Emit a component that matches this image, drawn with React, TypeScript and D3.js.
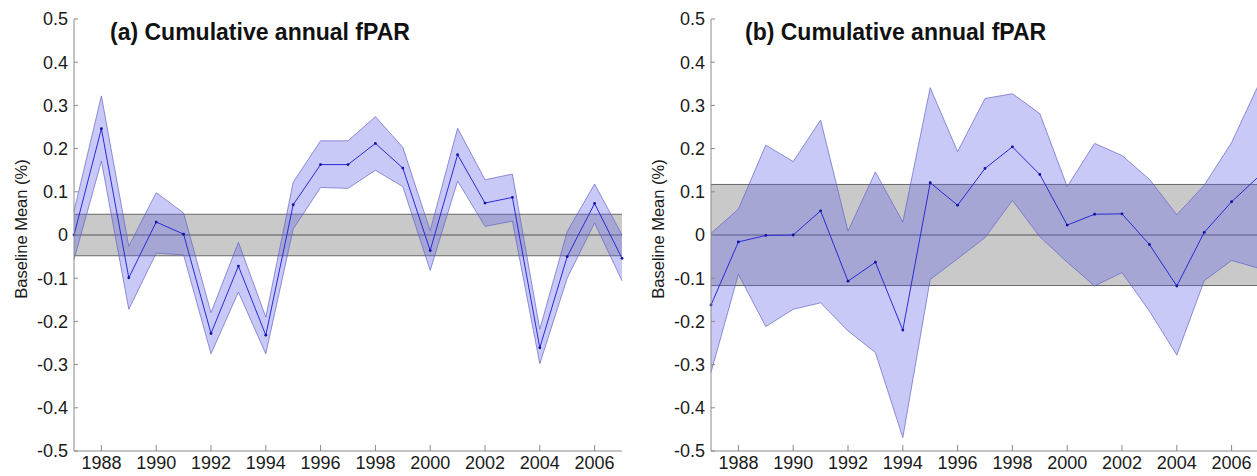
import React, { useRef, useEffect } from "react"
import * as d3 from "d3"

// years shared by both panels
const years = d3.range(1987, 2008)

// panel (a) cumulative annual fPAR: mean and envelope
const meanA = [0.0, 0.246, -0.099, 0.03, 0.002, -0.228, -0.072, -0.232, 0.07, 0.163, 0.163, 0.212, 0.155, -0.036, 0.186, 0.074, 0.087, -0.261, -0.05, 0.073, -0.054]
const upperA = [0.055, 0.322, -0.026, 0.098, 0.051, -0.18, -0.017, -0.19, 0.122, 0.218, 0.218, 0.274, 0.203, 0.01, 0.247, 0.128, 0.141, -0.218, 0.008, 0.118, 0.0]
const lowerA = [-0.057, 0.171, -0.172, -0.042, -0.046, -0.275, -0.132, -0.275, 0.014, 0.11, 0.108, 0.15, 0.112, -0.082, 0.125, 0.02, 0.032, -0.298, -0.1, 0.028, -0.106]
const baseA = 0.048

// panel (b)
const meanB = [-0.162, -0.016, -0.001, 0.0, 0.056, -0.107, -0.063, -0.22, 0.121, 0.069, 0.154, 0.204, 0.14, 0.023, 0.048, 0.049, -0.022, -0.118, 0.006, 0.077, 0.136]
const upperB = [0.004, 0.06, 0.208, 0.17, 0.266, 0.009, 0.146, 0.03, 0.341, 0.193, 0.316, 0.327, 0.281, 0.112, 0.212, 0.184, 0.129, 0.047, 0.115, 0.214, 0.35]
const lowerB = [-0.318, -0.091, -0.212, -0.172, -0.157, -0.222, -0.272, -0.469, -0.103, -0.055, -0.006, 0.08, -0.004, -0.063, -0.118, -0.087, -0.176, -0.278, -0.106, -0.059, -0.077]
const baseB = 0.117

const yTicks = [0.5, 0.4, 0.3, 0.2, 0.1, 0, -0.1, -0.2, -0.3, -0.4, -0.5]
const xTicks = [1988, 1990, 1992, 1994, 1996, 1998, 2000, 2002, 2004, 2006]

const panels = [
    { title: "(a) Cumulative annual fPAR", mean: meanA, upper: upperA, lower: lowerA, base: baseA, x0: 74, x1: 622, labelX: 21, titleX: 110 },
    { title: "(b) Cumulative annual fPAR", mean: meanB, upper: upperB, lower: lowerB, base: baseB, x0: 711, x1: 1259, labelX: 658, titleX: 745 },
]

const W = 1257
const H = 476
const font = "Liberation Sans, Arial, sans-serif"

function fmt(v) {
    if (v === 0) return "0"
    return (v < 0 ? "-" : "") + Math.abs(v).toFixed(1)
}

export default function App() {
    const ref = useRef(null)

    useEffect(() => {
        const svg = d3.select(ref.current)
        svg.selectAll("*").remove()

        const y = d3.scaleLinear().domain([-0.5, 0.5]).range([451, 19])

        panels.forEach((p) => {
            const x = d3.scaleLinear().domain([1987, 2007]).range([p.x0, p.x1])
            const g = svg.append("g")

            // baseline variability band
            g.append("rect")
                .attr("x", x(1987))
                .attr("y", y(p.base))
                .attr("width", x(2007) - x(1987))
                .attr("height", y(-p.base) - y(p.base))
                .attr("fill", "#c9c9c9")
            ;[p.base, -p.base].forEach((v) => {
                g.append("line")
                    .attr("x1", x(1987)).attr("x2", x(2007))
                    .attr("y1", y(v)).attr("y2", y(v))
                    .attr("stroke", "#5a5a5a").attr("stroke-width", 0.9)
            })
            g.append("line")
                .attr("x1", x(1987)).attr("x2", x(2007))
                .attr("y1", y(0)).attr("y2", y(0))
                .attr("stroke", "#555").attr("stroke-width", 1)

            // envelope
            const area = d3.area()
                .x((d, i) => x(years[i]))
                .y0((d, i) => y(p.lower[i]))
                .y1((d, i) => y(p.upper[i]))
            g.append("path")
                .attr("d", area(years))
                .attr("fill", "rgb(100,100,232)")
                .attr("fill-opacity", 0.35)
            const line = d3.line().x((d, i) => x(years[i])).y((d) => y(d))
            ;[p.upper, p.lower].forEach((s) => {
                g.append("path")
                    .attr("d", line(s))
                    .attr("fill", "none")
                    .attr("stroke", "#6464c8")
                    .attr("stroke-width", 0.7)
            })

            // mean line
            g.append("path")
                .attr("d", line(p.mean))
                .attr("fill", "none")
                .attr("stroke", "#2a2ad8")
                .attr("stroke-width", 1)
            g.selectAll("circle.dot")
                .data(p.mean)
                .enter()
                .append("circle")
                .attr("cx", (d, i) => x(years[i]))
                .attr("cy", (d) => y(d))
                .attr("r", 1.4)
                .attr("fill", "#1010a0")

            // axes
            g.append("line")
                .attr("x1", p.x0).attr("x2", p.x0)
                .attr("y1", y(0.5)).attr("y2", y(-0.5))
                .attr("stroke", "#8a8a8a")
            g.append("line")
                .attr("x1", p.x0).attr("x2", x(2007))
                .attr("y1", y(-0.5)).attr("y2", y(-0.5))
                .attr("stroke", "#8a8a8a")

            yTicks.forEach((t) => {
                g.append("line")
                    .attr("x1", p.x0).attr("x2", p.x0 + 4)
                    .attr("y1", y(t)).attr("y2", y(t))
                    .attr("stroke", "#8a8a8a")
                g.append("text")
                    .attr("x", p.x0 - 6)
                    .attr("y", y(t))
                    .attr("dy", "0.36em")
                    .attr("text-anchor", "end")
                    .style("font-family", font)
                    .style("font-size", "18px")
                    .attr("fill", "#1a1a1a")
                    .text(fmt(t))
            })
            xTicks.forEach((t) => {
                g.append("line")
                    .attr("x1", x(t)).attr("x2", x(t))
                    .attr("y1", y(-0.5)).attr("y2", y(-0.5) - 6)
                    .attr("stroke", "#8a8a8a")
                g.append("text")
                    .attr("x", x(t))
                    .attr("y", 469)
                    .attr("text-anchor", "middle")
                    .style("font-family", font)
                    .style("font-size", "18px")
                    .attr("fill", "#1a1a1a")
                    .text(t)
            })

            // axis label and title
            g.append("text")
                .attr("transform", `translate(${p.labelX},229) rotate(-90)`)
                .attr("text-anchor", "middle")
                .attr("dy", "0.35em")
                .style("font-family", font)
                .style("font-size", "16.5px")
                .attr("fill", "#1a1a1a")
                .text("Baseline Mean (%)")
            g.append("text")
                .attr("x", p.titleX)
                .attr("y", 40)
                .style("font-family", font)
                .style("font-size", "23px")
                .style("font-weight", "bold")
                .attr("fill", "#111")
                .text(p.title)
        })
    }, [])

    return (
        <svg
            ref={ref}
            width={W}
            height={H}
            style={{ position: "absolute", left: 0, top: 0, background: "#fff" }}
        />
    )
}
